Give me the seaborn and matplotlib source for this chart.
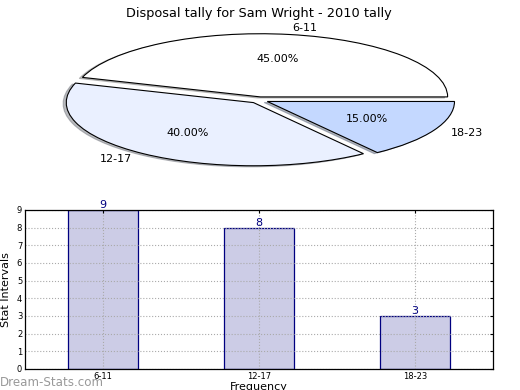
import numpy as np
import pandas as pd
import seaborn as sns
import matplotlib
matplotlib.use('Agg')
import matplotlib.pyplot as plt

# Data
categories = ['6-11', '12-17', '18-23']
counts = [9, 8, 3]
pie_colors = ['#ffffff', '#eaf0ff', '#c4d8ff']

sns.set_style('white')
plt.rcParams['font.family'] = ['DejaVu Sans']
plt.rcParams['text.color'] = 'black'
plt.rcParams['axes.labelcolor'] = 'black'
plt.rcParams['xtick.color'] = 'black'
plt.rcParams['ytick.color'] = 'black'

fig = plt.figure(figsize=(5.2, 3.9), dpi=100)

# - Pie
ax_pie = fig.add_axes([0.048, 0.541, 0.9, 0.405])
wedges, texts, autotexts = ax_pie.pie(
    counts, labels=categories, colors=pie_colors, autopct='%.2f%%',
    explode=[0.05, 0.05, 0.05], shadow={'ox': -0.012, 'oy': -0.012, 'shade': 0.5},
    startangle=0, counterclock=True,
    wedgeprops=dict(edgecolor='black', linewidth=0.8), textprops=dict(fontsize=8, color='black')
)
ax_pie.set_aspect('auto')
ax_pie.set_xlim(-1.25, 1.25)
ax_pie.set_ylim(-1.25, 1.25)
ax_pie.set_title('Disposal tally for Sam Wright - 2010 tally', fontsize=9.3, pad=3, color='black')

# - Bars
ax_bar = fig.add_axes([0.048, 0.054, 0.9, 0.408])
plot_df = pd.DataFrame({'interval': categories, 'count': counts})
sns.barplot(x='interval', y='count', data=plot_df, color='#ccccE6', edgecolor='#000080',
            linewidth=0.9, width=0.45, saturation=1, ax=ax_bar, zorder=2)
for i, v in enumerate(counts):
    ax_bar.text(i, v, str(v), ha='center', va='bottom', color='#000080', fontsize=8)
ax_bar.set_xlim(-0.5, 2.5)
ax_bar.set_ylim(0, 9)
ax_bar.set_yticks(range(10))
ax_bar.grid(True, linestyle=':', color='#aaaaaa', linewidth=0.8)
ax_bar.set_axisbelow(False)
for sp in ax_bar.spines.values():
    sp.set_visible(True)
    sp.set_color('black')
    sp.set_linewidth(0.9)
    sp.set_zorder(4)
ax_bar.tick_params(labelsize=6, length=2, direction='in', pad=2, top=True, right=True)
ax_bar.set_ylabel('Stat Intervals', fontsize=8, labelpad=4)
ax_bar.set_xlabel('Frequency', fontsize=8, labelpad=1)

fig.text(0.0, 0.01, 'Dream-Stats.com', color='#999999', fontsize=8.6, ha='left', va='baseline')

fig.savefig('out.png', dpi=100)
